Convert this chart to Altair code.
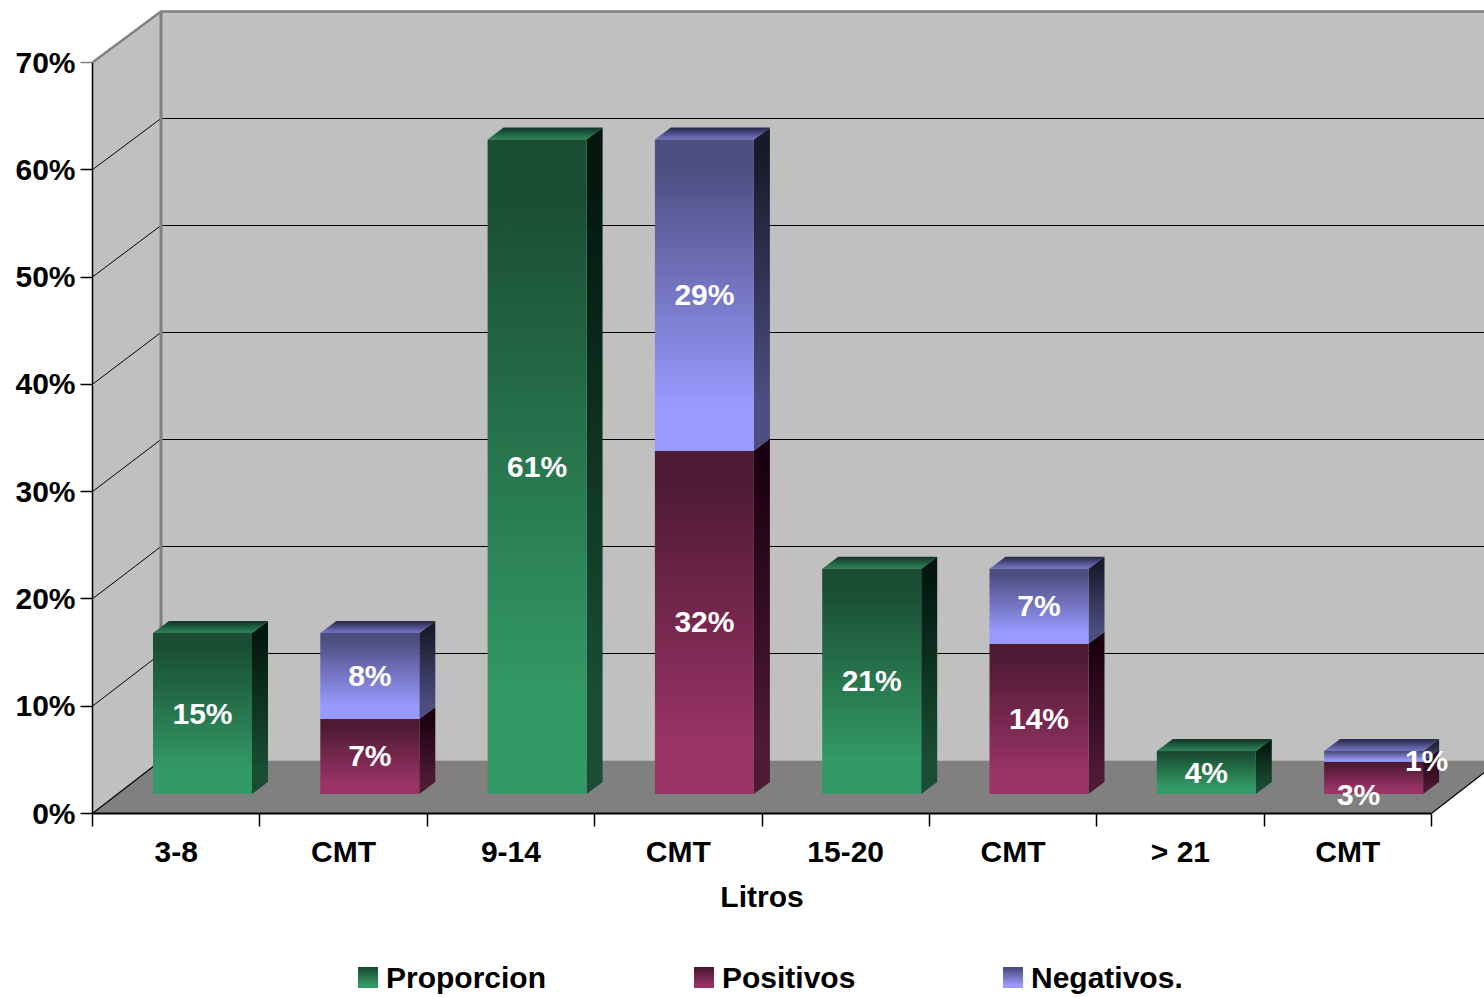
import json
import altair as alt
import pandas as pd

# Values read as shares of the total, one slot per axis position
CATEGORIES = ["3-8", "CMT", "9-14", "CMT", "15-20", "CMT", "> 21", "CMT"]
PROPORCION = [0.15, None, 0.61, None, 0.21, None, 0.04, None]
POSITIVOS = [None, 0.07, None, 0.32, None, 0.14, None, 0.03]
NEGATIVOS = [None, 0.08, None, 0.29, None, 0.07, None, 0.01]
TICKS = [0, 0.1, 0.2, 0.3, 0.4, 0.5, 0.6, 0.7]
SERIES_ORDER = ["Proporcion", "Positivos", "Negativos."]

FONT = "Liberation Sans"
SLOT = 1339 / 8      # pixels per axis position
PCT = 0.7 / 751      # axis units per pixel, vertically

# Oblique projection of the box: how far the back wall shifts from the front plane
WALL_DX = 68 / SLOT
WALL_RISE = 52.5 * PCT
WALL_SCALE = 749 / 751
XMAX = 8.5

# Bars stand part way into the box
BAR_LEFT = 60 / SLOT
BAR_WIDTH = 99 / SLOT
BAR_PITCH = 167.3 / SLOT
BAR_BASE = 19 * PCT
SIDE_DX = 16 / SLOT
SIDE_RISE = 12 * PCT


def back(v):
    return WALL_RISE + v * WALL_SCALE


def ramp(dark, light):
    return {
        "gradient": "linear", "x1": 0, "x2": 0, "y1": 0, "y2": 1,
        "stops": [
            {"offset": 0, "color": dark},
            {"offset": 0.08, "color": dark},
            {"offset": 0.85, "color": light},
            {"offset": 1, "color": light},
        ],
    }


STYLES = {
    "Proporcion": {
        "front": ramp("#1a4d33", "#339966"),
        "side": ramp("#03170e", "#1a4d33"),
        "top": ramp("#12392a", "#2a7d52"),
    },
    "Positivos": {
        "front": ramp("#4d1a33", "#993366"),
        "side": ramp("#1a0010", "#4d1a33"),
        "top": ramp("#33102a", "#7a2a52"),
    },
    "Negativos.": {
        "front": ramp("#4d4d80", "#9999ff"),
        "side": ramp("#181a2a", "#4d4d80"),
        "top": ramp("#2c2c50", "#6c6cb8"),
    },
}

x_scale = alt.Scale(domain=[0, 8], range=[0, 1339], nice=False, zero=False)
y_scale = alt.Scale(domain=[0, 0.7], range=[802, 51], nice=False, zero=False)

# Every layer carries the same percentage axis, so they merge into one
y_axis = alt.Axis(
    values=TICKS, format=".0%", title=None, grid=False, zindex=1, offset=1,
    labelFont=FONT, labelFontSize=30, labelFontWeight="bold", labelColor="#000000",
    labelPadding=5, labelOffset=1, tickSize=12, tickWidth=1.5,
    domainColor="#000000", domainWidth=1.5,
    tickColor={"condition": {"test": "datum.value >= 0.7", "value": "#808080"}, "value": "#000000"},
)


def X(field="x"):
    return alt.X(f"{field}:Q", scale=x_scale, axis=None)


def Y(field="y"):
    return alt.Y(f"{field}:Q", scale=y_scale, axis=y_axis, stack=None)


# Segment table: one row per drawn piece of a column
segments = []
for series, values in zip(SERIES_ORDER, [PROPORCION, POSITIVOS, NEGATIVOS]):
    for i, v in enumerate(values):
        if v is None:
            continue
        below = POSITIVOS[i] if series == "Negativos." else 0
        lo = BAR_BASE + below
        left = i * BAR_PITCH + BAR_LEFT
        segments.append({
            "series": series, "slot": i, "value": v,
            "x0": left, "x1": left + BAR_WIDTH,
            "lo": lo, "hi": lo + v, "mid": lo + v / 2,
            "xmid": left + BAR_WIDTH / 2,
            "cap": series != "Positivos",
        })
seg = pd.DataFrame(segments)

# Box: left wall, back wall, floor
left_wall = pd.DataFrame([
    {"x": 0, "y": 0, "y2": 0.7},
    {"x": WALL_DX, "y": back(0), "y2": back(0.7)},
])
back_wall = pd.DataFrame([{"x": WALL_DX, "x2": XMAX, "y": back(0), "y2": back(0.7)}])
floor = pd.DataFrame([
    {"x": 0, "y": 0, "y2": 0},
    {"x": WALL_DX, "y": 0, "y2": back(0)},
    {"x": 8, "y": 0, "y2": back(0)},
    {"x": 8 + WALL_DX, "y": back(0), "y2": back(0)},
])

layers = [
    alt.Chart(left_wall).mark_area(color="#c0c0c0").encode(
        x=X(), y=Y(), y2=alt.Y2("y2:Q")),
    alt.Chart(back_wall).mark_rect(color="#c0c0c0").encode(
        x=X(), x2=alt.X2("x2:Q"), y=Y(), y2=alt.Y2("y2:Q")),
    alt.Chart(floor).mark_area(color="#808080").encode(
        x=X(), y=Y(), y2=alt.Y2("y2:Q")),
]

# Gridlines bend where the left wall meets the back wall
grid_rows = []
for t in TICKS[1:-1]:
    grid_rows += [
        {"t": t, "x": 0, "y": t},
        {"t": t, "x": WALL_DX, "y": back(t)},
        {"t": t, "x": XMAX, "y": back(t)},
    ]
layers.append(
    alt.Chart(pd.DataFrame(grid_rows)).mark_line(color="#000000", strokeWidth=1).encode(
        x=X(), y=Y(), detail="t:N"))

# Floor edges
floor_edges = pd.DataFrame([
    {"e": "a", "x": 0, "y": 0}, {"e": "a", "x": WALL_DX, "y": back(0)},
    {"e": "b", "x": 8, "y": 0}, {"e": "b", "x": 8 + WALL_DX, "y": back(0)},
])
layers.append(
    alt.Chart(floor_edges).mark_line(color="#000000", strokeWidth=1.2).encode(
        x=X(), y=Y(), detail="e:N"))

# Grey wall outline
outline = pd.DataFrame([
    {"x": 0, "y": 0.7}, {"x": WALL_DX, "y": back(0.7)}, {"x": XMAX, "y": back(0.7)},
])
layers.append(
    alt.Chart(outline).mark_line(color="#808080", strokeWidth=2.5).encode(x=X(), y=Y()))
layers.append(
    alt.Chart(pd.DataFrame([{"x": WALL_DX, "y": back(0), "y2": back(0.7)}]))
    .mark_rule(color="#808080", strokeWidth=3)
    .encode(x=X(), y=Y(), y2=alt.Y2("y2:Q")))

# Columns: side face, cap and front face for every series
for series in SERIES_ORDER:
    rows = seg[seg.series == series]
    style = STYLES[series]
    side_rows, top_rows = [], []
    for r in rows.itertuples():
        side_rows += [
            {"k": r.slot, "x": r.x1, "y": r.hi, "y2": r.lo},
            {"k": r.slot, "x": r.x1 + SIDE_DX, "y": r.hi + SIDE_RISE, "y2": r.lo + SIDE_RISE},
        ]
        if r.cap:
            t = r.hi
            top_rows += [
                {"k": r.slot, "x": r.x0, "y": t, "y2": t},
                {"k": r.slot, "x": r.x0 + SIDE_DX, "y": t + SIDE_RISE, "y2": t},
                {"k": r.slot, "x": r.x1, "y": t + SIDE_RISE, "y2": t},
                {"k": r.slot, "x": r.x1 + SIDE_DX, "y": t + SIDE_RISE, "y2": t + SIDE_RISE},
            ]
    layers.append(
        alt.Chart(pd.DataFrame(side_rows)).mark_area(color=style["side"]).encode(
            x=X(), y=Y(), y2=alt.Y2("y2:Q"), detail="k:N"))
    if top_rows:
        layers.append(
            alt.Chart(pd.DataFrame(top_rows)).mark_area(color=style["top"]).encode(
                x=X(), y=Y(), y2=alt.Y2("y2:Q"), detail="k:N"))
    layers.append(
        alt.Chart(rows).mark_rect(color=style["front"]).encode(
            x=X("x0"), x2=alt.X2("x1:Q"), y=Y("hi"), y2=alt.Y2("lo:Q")))

# Value labels; the two on the last, thin column sit off-centre
shifted = {("Positivos", 7): (-15, 18), ("Negativos.", 7): (53, 6)}
regular = seg[[(s, k) not in shifted for s, k in zip(seg.series, seg.slot)]]


def value_labels(frame, dx=0, dy=1):
    return alt.Chart(frame).mark_text(
        font=FONT, fontSize=30, fontWeight="bold", color="#ffffff",
        align="center", baseline="middle", dx=dx, dy=dy,
    ).encode(x=X("xmid"), y=Y("mid"), text=alt.Text("value:Q", format=".0%"))


layers.append(value_labels(regular))
for (s, k), (dx, dy) in shifted.items():
    layers.append(value_labels(seg[(seg.series == s) & (seg.slot == k)], dx, dy))

# Category axis along the front of the floor
label_expr = json.dumps(CATEGORIES) + "[datum.value]"
axis_frame = pd.DataFrame({"slot": list(range(8)), "tick": TICKS})
layers.append(
    alt.Chart(axis_frame).mark_point(opacity=0).encode(
        x=alt.X(
            "slot:O",
            scale=alt.Scale(type="band", range=[-1, 1338], paddingInner=0, paddingOuter=0),
            axis=alt.Axis(
                title="Litros", titleFont=FONT, titleFontSize=30, titleFontWeight="bold",
                titleColor="#000000", titlePadding=15, zindex=1,
                labelExpr=label_expr, labelAngle=0, labelFont=FONT, labelFontSize=30,
                labelFontWeight="bold", labelColor="#000000", labelPadding=11,
                tickBand="extent", tickSize=13, tickWidth=1.5, tickColor="#000000",
                domainColor="#000000", domainWidth=2, grid=False,
            ),
        ),
        y=Y("tick"),
    ))

# Key below the chart
KEY_X = {"Proporcion": 265, "Positivos": 601, "Negativos.": 910}
key_row = pd.DataFrame({"n": [0]})
for series in SERIES_ORDER:
    left = KEY_X[series]
    layers.append(
        alt.Chart(key_row).mark_rect(color=STYLES[series]["front"]).encode(
            x=alt.value(left), x2=alt.value(left + 20), y=alt.value(956), y2=alt.value(977)))
    layers.append(
        alt.Chart(key_row).mark_text(
            text=series, font=FONT, fontSize=30, fontWeight="bold", color="#000000",
            align="left", baseline="middle",
        ).encode(x=alt.value(left + 28), y=alt.value(968)))

chart = (
    alt.layer(*layers)
    .resolve_scale(x="independent")
    .properties(
        width=1391, height=802,
        autosize=alt.AutoSizeParams(type="none"),
        padding={"left": 93, "top": 11, "right": 0, "bottom": 184},
        background="#ffffff",
    )
    .configure_view(stroke=None)
)

chart.save("out.html", embed_options={"renderer": "svg", "actions": False})
